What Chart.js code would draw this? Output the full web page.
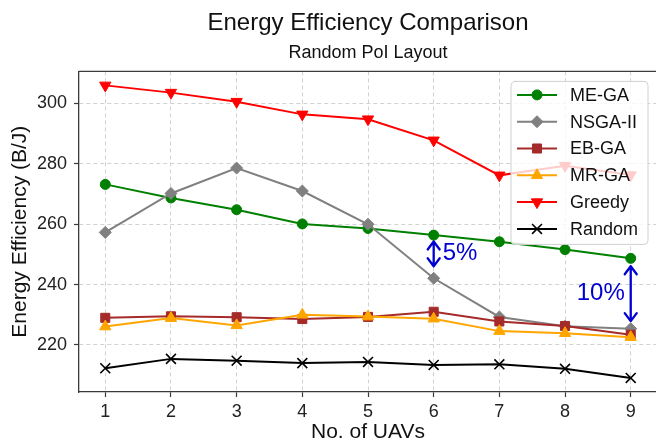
<!DOCTYPE html>
<html>
<head>
<meta charset="utf-8">
<script src="https://cdn.jsdelivr.net/npm/chart.js@4.4.0/dist/chart.umd.min.js"></script>
<style>
html, body { margin: 0; padding: 0; background: #fff; }
body { width: 656px; height: 445px; overflow: hidden; }
#wrap { width: 680px; height: 445px; }
</style>
</head>
<body>
<div id="wrap"><canvas id="myChart" width="680" height="445"></canvas></div>
<script>
// data
const uavs = [1, 2, 3, 4, 5, 6, 7, 8, 9];
const meGa = [273.2, 268.7, 264.8, 260.1, 258.6, 256.4, 254.2, 251.6, 248.7];
const nsga2 = [257.3, 270.2, 278.6, 271.0, 260.0, 242.1, 229.3, 226.2, 225.4];
const ebGa = [229.0, 229.5, 229.2, 228.6, 229.3, 231.0, 227.8, 226.3, 223.4];
const mrGa = [226.1, 228.9, 226.5, 230.0, 229.4, 228.7, 224.6, 223.9, 222.6];
const greedy = [306.0, 303.6, 300.6, 296.4, 294.8, 287.8, 276.2, 279.4, 276.3];
const random = [212.3, 215.4, 214.8, 214.0, 214.4, 213.4, 213.6, 212.1, 209.1];
const yTicks = [220, 240, 260, 280, 300];

// gap annotations (x, arrow start, arrow end, label)
const gapX = [6, 9];
const gapFrom = [254.3, 246.1];
const gapTo = [246.1, 227.9];
const gapLabels = ['5%', '10%'];

const FONT = '"Liberation Sans", Arial, sans-serif';

function series(label, values, color, style, radius, rotation) {
    return {
        label: label,
        data: uavs.map((x, i) => ({x: x, y: values[i]})),
        borderColor: color,
        backgroundColor: color,
        borderWidth: 2,
        pointStyle: style,
        pointRadius: radius,
        pointRotation: rotation || 0,
        pointBorderWidth: style === 'crossRot' ? 1.6 : 1,
        pointBackgroundColor: color,
        pointBorderColor: color,
        tension: 0
    };
}

const datasets = [
    series('ME-GA', meGa, 'green', 'circle', 5),
    series('NSGA-II', nsga2, 'gray', 'rectRot', 6),
    series('EB-GA', ebGa, 'brown', 'rect', 6.4),
    series('MR-GA', mrGa, 'orange', 'triangle', 6.5),
    series('Greedy', greedy, 'red', 'triangle', 6.5, 180),
    series('Random', random, 'black', 'crossRot', 7)
];
// later series on top, like the original
datasets.forEach((d, i) => { d.order = datasets.length - i; });

function drawArrow(ctx, x, y1, y2) {
    const hw = 6, hl = 8;
    ctx.beginPath();
    ctx.moveTo(x, y1);
    ctx.lineTo(x, y2);
    ctx.moveTo(x - hw, y1 + hl);
    ctx.lineTo(x, y1);
    ctx.lineTo(x + hw, y1 + hl);
    ctx.moveTo(x - hw, y2 - hl);
    ctx.lineTo(x, y2);
    ctx.lineTo(x + hw, y2 - hl);
    ctx.stroke();
}

const extras = {
    id: 'extras',
    afterDatasetsDraw(chart) {
        const ctx = chart.ctx;
        const area = chart.chartArea;
        const xs = chart.scales.x, ys = chart.scales.y;
        ctx.save();

        // top and right spines
        ctx.strokeStyle = '#3a3a3a';
        ctx.lineWidth = 1.3;
        ctx.beginPath();
        ctx.moveTo(area.left, area.top);
        ctx.lineTo(area.right, area.top);
        ctx.lineTo(area.right, area.bottom);
        ctx.stroke();

        // gap arrows
        ctx.strokeStyle = '#0000d0';
        ctx.fillStyle = '#0000d0';
        ctx.lineWidth = 2.3;
        ctx.lineCap = 'round';
        ctx.lineJoin = 'round';
        ctx.font = '24px ' + FONT;
        ctx.textBaseline = 'middle';
        gapX.forEach((gx, i) => {
            const px = xs.getPixelForValue(gx);
            const y1 = ys.getPixelForValue(gapFrom[i]);
            const y2 = ys.getPixelForValue(gapTo[i]);
            drawArrow(ctx, px, y1, y2);
            const my = (y1 + y2) / 2;
            if (i === 0) {
                ctx.textAlign = 'left';
                ctx.fillText(gapLabels[i], px + 9, my);
            } else {
                ctx.textAlign = 'right';
                ctx.fillText(gapLabels[i], px - 6, my);
            }
        });

        // legend box, upper right
        const bx = area.right - 146, by = area.top + 10, bw = 137, bh = 163;
        ctx.fillStyle = 'rgba(255,255,255,0.8)';
        ctx.strokeStyle = '#d0d0d0';
        ctx.lineWidth = 1;
        ctx.beginPath();
        ctx.roundRect(bx, by, bw, bh, 4);
        ctx.fill();
        ctx.stroke();

        ctx.font = '18px ' + FONT;
        ctx.textAlign = 'left';
        ctx.textBaseline = 'middle';
        ctx.lineCap = 'butt';
        chart.data.datasets.forEach((d, i) => {
            const ly = by + 13.5 + i * 26.8;
            ctx.strokeStyle = d.borderColor;
            ctx.fillStyle = d.borderColor;
            ctx.lineWidth = 2;
            ctx.beginPath();
            ctx.moveTo(bx + 6, ly);
            ctx.lineTo(bx + 46, ly);
            ctx.stroke();
            ctx.lineWidth = d.pointBorderWidth;
            Chart.helpers.drawPoint(ctx, {
                pointStyle: d.pointStyle,
                radius: d.pointRadius,
                rotation: d.pointRotation,
                borderWidth: d.pointBorderWidth
            }, bx + 26, ly);
            ctx.fillStyle = '#111';
            ctx.fillText(d.label, bx + 59, ly + 1);
        });
        ctx.restore();
    }
};

const config = {
    type: 'line',
    data: { datasets: datasets },
    options: {
        responsive: false,
        animation: false,
        devicePixelRatio: 1,
        layout: { padding: { left: 0, right: 23, top: 0, bottom: 0 } },
        plugins: {
            legend: { display: false },
            tooltip: { enabled: false },
            title: {
                display: true,
                text: 'Energy Efficiency Comparison',
                fullSize: false,
                color: '#111',
                font: { family: FONT, size: 24, weight: 'normal' },
                padding: { top: 9, bottom: 4 }
            },
            subtitle: {
                display: true,
                text: 'Random PoI Layout',
                fullSize: false,
                color: '#111',
                font: { family: FONT, size: 18, weight: 'normal' },
                padding: { top: 0, bottom: 8 }
            }
        },
        scales: {
            x: {
                type: 'linear',
                min: 0.6,
                max: 9.4,
                afterBuildTicks: s => { s.ticks = uavs.map(v => ({value: v})); },
                afterFit: s => { s.height = 53; },
                ticks: {
                    color: '#222',
                    font: { family: FONT, size: 18 },
                    padding: 4,
                    maxRotation: 0,
                    autoSkip: false
                },
                grid: {
                    color: '#d2d2d2',
                    lineWidth: 1,
                    tickLength: 5,
                    tickColor: '#3a3a3a',
                    tickWidth: 1.2,
                    tickBorderDash: []
                },
                border: { display: true, color: '#3a3a3a', width: 1.3, dash: [4, 3] },
                title: {
                    display: true,
                    text: 'No. of UAVs',
                    color: '#111',
                    font: { family: FONT, size: 21 },
                    padding: { top: 0, bottom: 0 }
                }
            },
            y: {
                min: 204.43,
                max: 310.63,
                afterBuildTicks: s => { s.ticks = yTicks.map(v => ({value: v})); },
                afterFit: s => { s.width = 79; },
                ticks: {
                    color: '#222',
                    font: { family: FONT, size: 18 },
                    padding: 7
                },
                grid: {
                    color: '#d2d2d2',
                    lineWidth: 1,
                    tickLength: 5,
                    tickColor: '#3a3a3a',
                    tickWidth: 1.2,
                    tickBorderDash: []
                },
                border: { display: true, color: '#3a3a3a', width: 1.3, dash: [4, 3] },
                title: {
                    display: true,
                    text: 'Energy Efficiency (B/J)',
                    color: '#111',
                    font: { family: FONT, size: 21 },
                    padding: { top: 8, bottom: 0 }
                }
            }
        }
    },
    plugins: [extras]
};

const myChart = new Chart(document.getElementById('myChart'), config);
</script>
</body>
</html>
